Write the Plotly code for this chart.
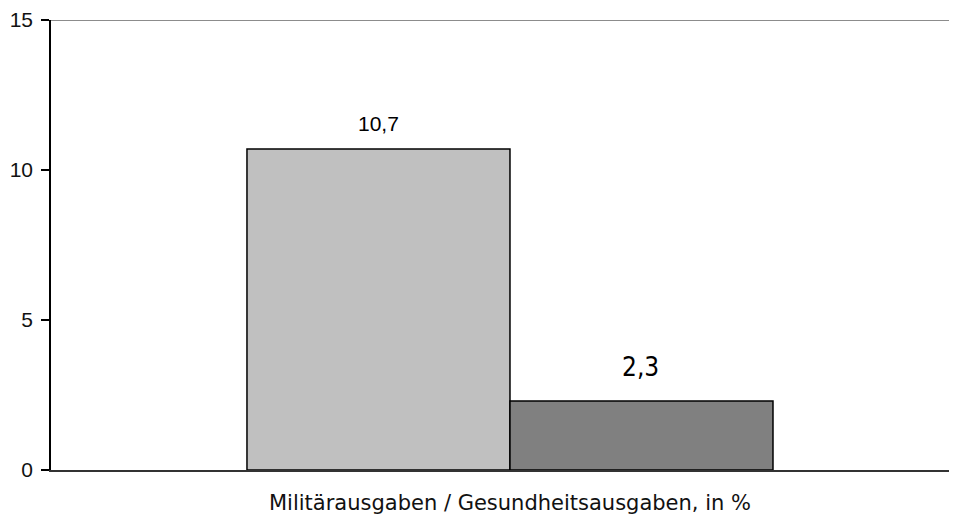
import plotly.graph_objects as go

category = ["Militärausgaben / Gesundheitsausgaben, in %"]
series_names = ["Militärausgaben", "Gesundheitsausgaben"]
series_values = [[10.7], [2.3]]
value_labels = ["10,7", "2,3"]
y_ticks = [0, 5, 10, 15]

colors = ["#C0C0C0", "#808080"]
label_fonts = [dict(family="Liberation Sans, Arial, sans-serif", size=21, color="#000"),
               dict(family="DejaVu Sans Condensed, Liberation Sans Narrow, sans-serif", size=26, color="#000")]
label_xshift = [-131, 131]
label_yshift = [26, 34]

fig = go.Figure()
for name, vals, col in zip(series_names, series_values, colors):
    fig.add_trace(go.Bar(
        x=category, y=vals, name=name,
        marker=dict(color=col, line=dict(color="#000", width=1.5)),
        hoverinfo="skip",
    ))

for vals, lab, fnt, xs, ys in zip(series_values, value_labels, label_fonts, label_xshift, label_yshift):
    fig.add_annotation(x=category[0], y=vals[0], text=lab, showarrow=False,
                       xshift=xs, yshift=ys, yanchor="middle", font=fnt)

fig.add_shape(type="line", xref="paper", x0=0, x1=1, yref="y", y0=15, y1=15,
              line=dict(color="#8c8c8c", width=2))

# page has an 8px body margin; compensate so the plot lands where the reference has it
fig.update_layout(
    width=949, height=507,
    margin=dict(l=43, r=0, t=12, b=42),
    paper_bgcolor="white", plot_bgcolor="white",
    showlegend=False,
    barmode="group", bargap=0.4194, bargroupgap=0,
    separators=",.",
    font=dict(family="Liberation Sans, Arial, sans-serif", color="#000"),
    xaxis=dict(type="category", range=[-0.5066, 0.4934], showline=True,
               linecolor="#333", linewidth=2, showgrid=False, ticks="",
               ticklabelstandoff=13,
               tickfont=dict(family="DejaVu Sans, sans-serif", size=21, color="#111")),
    yaxis=dict(range=[0, 15], tickvals=y_ticks, showline=True, linecolor="#000",
               linewidth=1.5, ticks="outside", ticklen=8, tickcolor="#000",
               tickwidth=1.5, showgrid=False, zeroline=False,
               ticklabelstandoff=4,
               tickfont=dict(family="Liberation Sans, Arial, sans-serif", size=21, color="#111")),
)

fig.write_html("out.html")
